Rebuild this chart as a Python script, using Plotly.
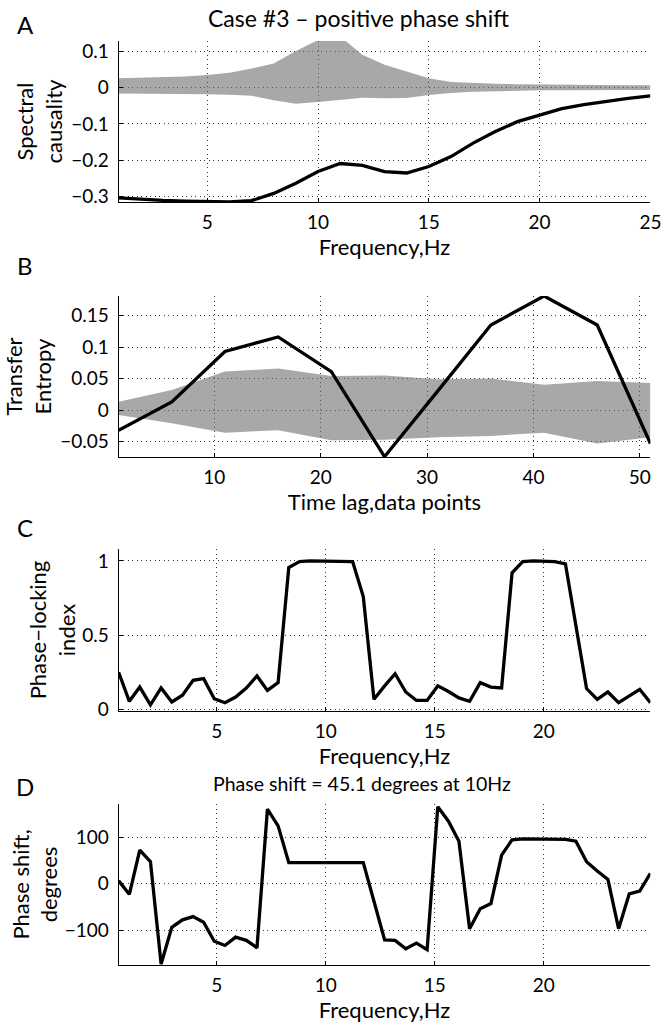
import plotly.graph_objects as go

# panel A: spectral causality
freq_a = [1, 2, 3, 4, 5, 6, 7, 8, 9, 10, 11, 12, 13, 14, 15, 16, 17, 18, 19, 20, 21, 22, 23, 24, 25]
causality = [-0.303, -0.307, -0.310, -0.312, -0.314, -0.314, -0.311, -0.291, -0.263, -0.231, -0.209, -0.214,
             -0.231, -0.235, -0.217, -0.190, -0.153, -0.121, -0.094, -0.076, -0.058, -0.047, -0.038, -0.030, -0.023]
causality_hi = [0.025, 0.026, 0.028, 0.030, 0.034, 0.040, 0.052, 0.066, 0.100, 0.130, 0.140, 0.090, 0.062,
                0.043, 0.025, 0.015, 0.012, 0.010, 0.009, 0.008, 0.007, 0.007, 0.006, 0.006, 0.006]
causality_lo = [-0.017, -0.017, -0.018, -0.018, -0.019, -0.020, -0.023, -0.035, -0.045, -0.040, -0.035, -0.028,
                -0.030, -0.029, -0.021, -0.015, -0.012, -0.010, -0.009, -0.008, -0.008, -0.007, -0.007, -0.007, -0.007]

# panel B: transfer entropy
lags = [1, 6, 11, 16, 21, 26, 31, 36, 41, 46, 51]
entropy = [-0.032, 0.013, 0.093, 0.116, 0.061, -0.074, 0.030, 0.135, 0.181, 0.135, -0.053]
entropy_hi = [0.013, 0.032, 0.061, 0.066, 0.054, 0.055, 0.049, 0.050, 0.040, 0.046, 0.043]
entropy_lo = [-0.008, -0.021, -0.036, -0.032, -0.048, -0.047, -0.043, -0.041, -0.036, -0.053, -0.043]

# panels C, D
freq_cd = [0.49, 0.98, 1.46, 1.95, 2.44, 2.93, 3.42, 3.91, 4.39, 4.88, 5.37, 5.86, 6.35, 6.84, 7.32, 7.81,
           8.30, 8.79, 9.28, 9.77, 10.25, 10.74, 11.23, 11.72, 12.21, 12.70, 13.18, 13.67, 14.16, 14.65, 15.14,
           15.63, 16.11, 16.60, 17.09, 17.58, 18.07, 18.55, 19.04, 19.53, 20.02, 20.51, 21.00, 21.48, 21.97,
           22.46, 22.95, 23.44, 23.93, 24.41, 24.90]
plv = [0.25, 0.054, 0.15, 0.03, 0.144, 0.05, 0.095, 0.196, 0.207, 0.072, 0.045, 0.083, 0.144, 0.225, 0.128,
       0.18, 0.955, 0.995, 1.0, 1.0, 1.0, 1.0, 0.995, 0.76, 0.068, 0.158, 0.24, 0.117, 0.06, 0.06, 0.158, 0.12,
       0.077, 0.054, 0.18, 0.15, 0.144, 0.92, 0.995, 1.0, 1.0, 0.995, 0.98, 0.56, 0.14, 0.067, 0.117, 0.045,
       0.09, 0.135, 0.045]
phase = [6, -23, 72, 47, -173, -94, -78, -71, -83, -124, -133, -115, -122, -138, 160, 124, 45, 45, 45, 45,
         45.1, 45, 45, 45, -38, -121, -122, -140, -128, -142, 165, 134, 91, -97, -54, -43, 61, 94, 96, 96, 96,
         96, 95, 91, 47, 27, 9, -97, -22, -16, 22]

W, H = 664, 1027
FONT = "Lato"
band = "rgba(105,105,105,0.58)"


def fx(p):
    return p / W


def fy(p):
    return 1 - p / H


fig = go.Figure()


def add_band(x, lo, hi, xa, ya):
    fig.add_trace(go.Scatter(x=x, y=lo, mode="lines", line=dict(width=0), xaxis=xa, yaxis=ya,
                             hoverinfo="skip"))
    fig.add_trace(go.Scatter(x=x, y=hi, mode="lines", line=dict(width=0), fill="tonexty",
                             fillcolor=band, xaxis=xa, yaxis=ya, hoverinfo="skip"))


def add_line(x, y, xa, ya):
    fig.add_trace(go.Scatter(x=x, y=y, mode="lines", line=dict(color="black", width=3.3),
                             xaxis=xa, yaxis=ya))


add_band(freq_a, causality_lo, causality_hi, "x", "y")
add_line(freq_a, causality, "x", "y")
add_band(lags, entropy_lo, entropy_hi, "x2", "y2")
add_line(lags, entropy, "x2", "y2")
add_line(freq_cd, plv, "x3", "y3")
add_line(freq_cd, phase, "x4", "y4")

tickfont = dict(family=FONT, size=19, color="black")
titlefont = dict(family=FONT, size=22, color="black")
xdom = [fx(118.6), fx(650.4)]
grid = dict(showgrid=True, gridcolor="#3a3a3a", griddash="1px,3.5px", gridwidth=1, zeroline=False)


def xaxis(rng, vals, anchor, title):
    return dict(domain=xdom, range=rng, anchor=anchor, tickvals=vals, ticktext=[str(v) for v in vals],
                ticks="inside", ticklen=4, tickcolor="black", showline=True, linecolor="black", linewidth=1,
                tickfont=tickfont, ticklabelstandoff=3,
                title=dict(text=title, font=titlefont, standoff=1), automargin=False, **grid)


def yaxis(rng, top, bottom, vals, labels, anchor, title, standoff):
    return dict(domain=[fy(bottom), fy(top)], range=rng, anchor=anchor, tickvals=vals, ticktext=labels,
                ticks="inside", ticklen=4, tickcolor="black", showline=True, linecolor="black", linewidth=1,
                tickfont=tickfont, ticklabelstandoff=5,
                title=dict(text=title, font=titlefont, standoff=standoff), automargin=False, **grid)


fig.update_layout(
    width=W, height=H, margin=dict(l=0, r=0, t=0, b=0),
    paper_bgcolor="white", plot_bgcolor="white", showlegend=False,
    font=dict(family=FONT, color="black"),
    xaxis=xaxis([1, 25], [5, 10, 15, 20, 25], "y", "Frequency,Hz"),
    yaxis=yaxis([-0.3146, 0.1275], 41, 202, [-0.3, -0.2, -0.1, 0, 0.1],
                ["\u22120.3", "\u22120.2", "\u22120.1", "0", "0.1"], "x", "Spectral<br>causality", 2),
    xaxis2=xaxis([1, 51], [10, 20, 30, 40, 50], "y2", "Time lag,data points"),
    yaxis2=yaxis([-0.0745, 0.181], 296, 457, [-0.05, 0, 0.05, 0.1, 0.15],
                 ["\u22120.05", "0", "0.05", "0.1", "0.15"], "x2", "Transfer<br>Entropy", 5),
    xaxis3=xaxis([0.488, 24.9], [5, 10, 15, 20], "y3", "Frequency,Hz"),
    yaxis3=yaxis([-0.011, 1.08], 549, 711, [0, 0.5, 1], ["0", "0.5", "1"], "x3",
                 "Phase\u2212locking<br>index", 0),
    xaxis4=xaxis([0.488, 24.9], [5, 10, 15, 20], "y4", "Frequency,Hz"),
    yaxis4=yaxis([-175, 171], 804, 965, [-100, 0, 100], ["\u2212100", "0", "100"], "x4",
                 "Phase shift,<br>degrees", 0),
)

notes = [
    ("Case #3 \u2013 positive phase shift", 358, 18, 23),
    ("Phase shift = 45.1 degrees at 10Hz", 362, 783, 19.5),
    ("A", 25, 24, 24),
    ("B", 25, 266, 24),
    ("C", 25, 527, 24),
    ("D", 25, 786, 24),
]
for text, x, y, size in notes:
    fig.add_annotation(text=text, x=fx(x), y=fy(y), xref="paper", yref="paper", showarrow=False,
                       xanchor="center", yanchor="middle", font=dict(family=FONT, size=size, color="black"))

# drop the default 8px page margin so the figure fills the window exactly
fig.write_html("out.html", config={"displayModeBar": False},
               post_script="document.body.style.margin='0px';document.body.style.overflow='hidden';")
